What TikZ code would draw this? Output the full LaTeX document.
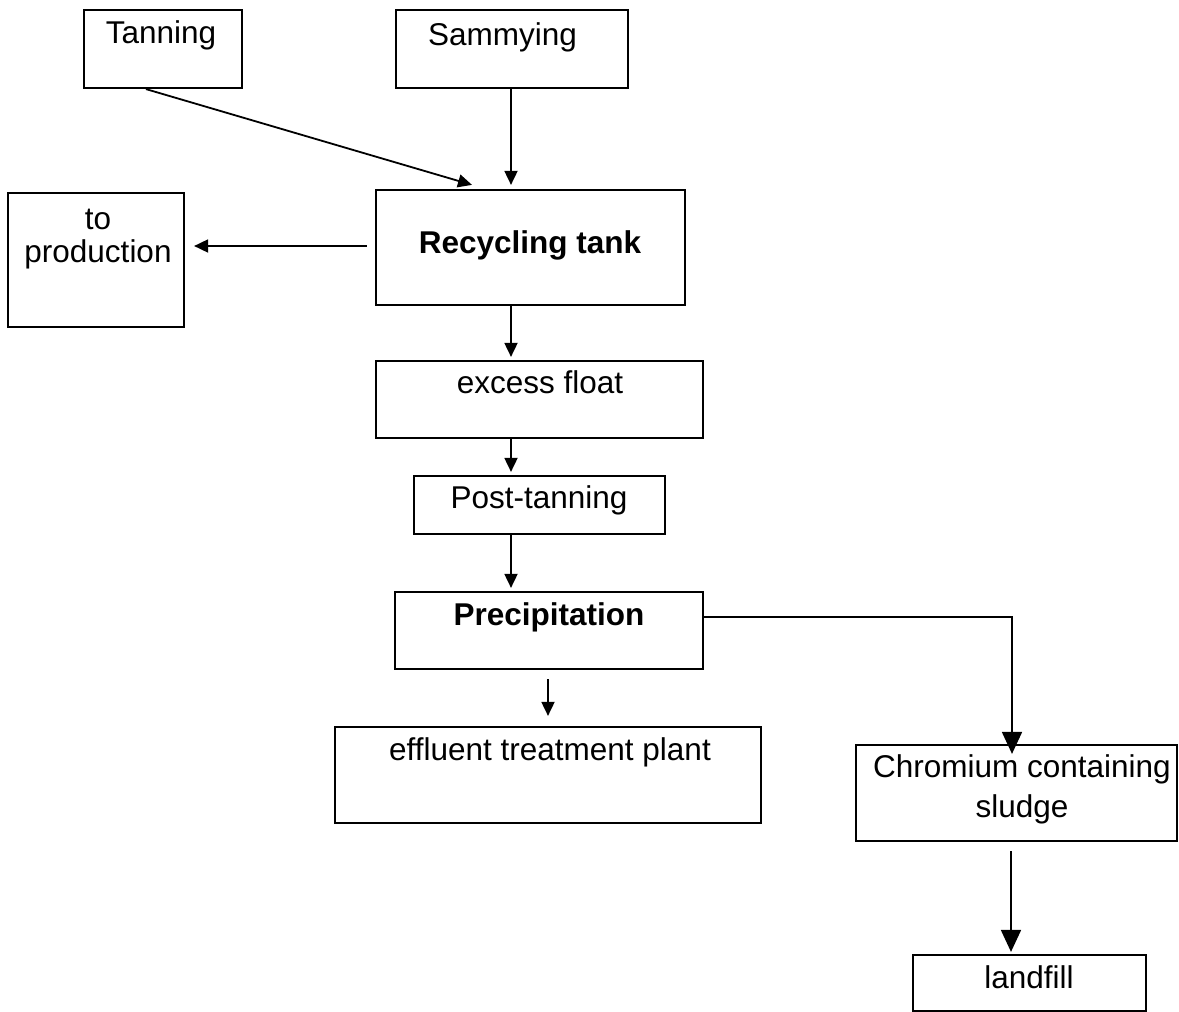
\documentclass[tikz,border=0pt]{standalone}
\usepackage{fontspec}
\setmainfont{Liberation Sans}
\usetikzlibrary{arrows.meta}
\begin{document}
\begin{tikzpicture}[x=1pt,y=-1pt,
  box/.style={draw=black,line width=2.2pt,rectangle,inner sep=0pt},
  lbl/.style={inner sep=0pt,anchor=base,font=\fontsize{31.5}{36}\selectfont},
  blbl/.style={lbl,font=\fontsize{31.5}{36}\selectfont\bfseries},
  arr/.style={line width=1.8pt,-{Triangle[width=13pt,length=14pt]}},
  bigarr/.style={line width=1.8pt,-{Triangle[width=20pt,length=22pt]}}]
\fill[white] (0,0) rectangle (1179,1012);
\useasboundingbox (0,0) rectangle (1179,1012);

% process boxes
\node[box,minimum width=158pt,minimum height=78pt]  (tan)  at (163,49) {};
\node[box,minimum width=232pt,minimum height=78pt]  (sam)  at (512,49) {};
\node[box,minimum width=176pt,minimum height=134pt] (prod) at (96,260) {};
\node[box,minimum width=309pt,minimum height=115pt] (rec)  at (530.5,247.5) {};
\node[box,minimum width=327pt,minimum height=77pt]  (exc)  at (539.5,399.5) {};
\node[box,minimum width=251pt,minimum height=58pt]  (post) at (539.5,505) {};
\node[box,minimum width=308pt,minimum height=77pt]  (prec) at (549,630.5) {};
\node[box,minimum width=426pt,minimum height=96pt]  (eff)  at (548,775) {};
\node[box,minimum width=321pt,minimum height=96pt]  (chr)  at (1016.5,793) {};
\node[box,minimum width=233pt,minimum height=56pt]  (land) at (1029.5,983) {};

% box captions
\node[lbl]  (tanT)  at (161,43)   {Tanning};
\node[lbl]  (samT)  at (502.5,45) {Sammying};
\node[lbl]  (prodA) at (98,229)   {to};
\node[lbl]  (prodB) at (98,262)   {production};
\node[blbl] (recT)  at (530,253)  {Recycling tank};
\node[lbl]  (excT)  at (540,393)  {excess float};
\node[lbl]  (postT) at (539,508)  {Post-tanning};
\node[blbl] (precT) at (549,625)  {Precipitation};
\node[lbl]  (effT)  at (550,760)  {effluent treatment plant};
\node[lbl]  (chrA)  at (1022,777) {Chromium containing};
\node[lbl]  (chrB)  at (1022,817) {sludge};
\node[lbl]  (landT) at (1029,988) {landfill};

% flows
\draw[arr] ([xshift=-17pt]tan.south) -- ([xshift=-58.5pt,yshift=4pt]rec.north);
\draw[arr] ([xshift=-1pt]sam.south) -- ([xshift=-19.5pt,yshift=4pt]rec.north);
\draw[arr] ([xshift=-8pt,yshift=1.5pt]rec.west) -- ([xshift=9pt,yshift=14pt]prod.east);
\draw[arr] ([xshift=-19.5pt]rec.south) -- ([xshift=-28.5pt,yshift=3pt]exc.north);
\draw[arr] ([xshift=-28.5pt]exc.south) -- ([xshift=-28.5pt,yshift=3pt]post.north);
\draw[arr] ([xshift=-28.5pt]post.south) -- ([xshift=-38pt,yshift=3pt]prec.north);
\draw[arr] ([xshift=-1pt,yshift=-9pt]prec.south) -- ([yshift=10pt]eff.north);
\draw[bigarr] ([yshift=13.5pt]prec.east) -| ([xshift=-4.5pt,yshift=-10pt]chr.north);
\draw[bigarr] ([xshift=-5.5pt,yshift=-9pt]chr.south) -- ([xshift=-18.5pt,yshift=2pt]land.north);
\end{tikzpicture}
\end{document}
